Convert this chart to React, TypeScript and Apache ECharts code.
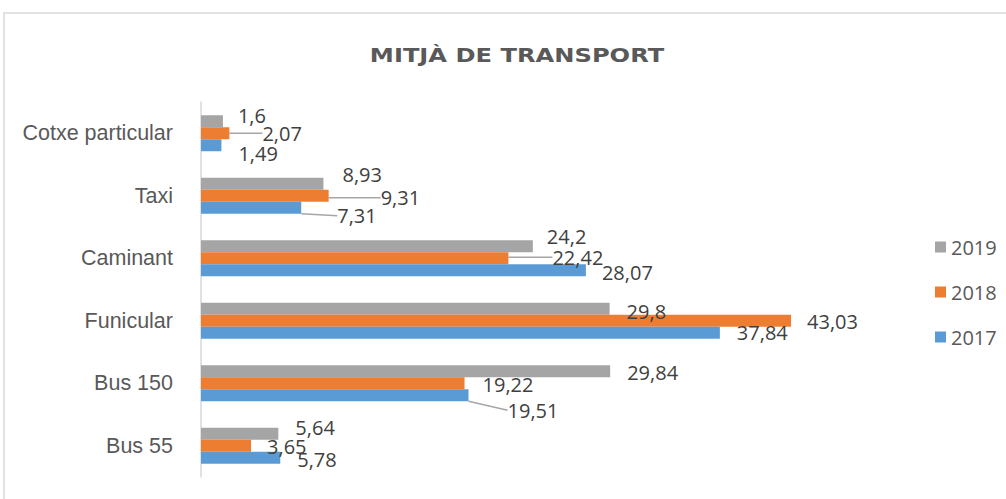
import React, { useEffect, useRef } from "react";
import * as echarts from "echarts";

// Categories listed bottom → top (ECharts category order on a vertical axis)
const categories = ["Bus 55", "Bus 150", "Funicular", "Caminant", "Taxi", "Cotxe particular"];
const seriesNames = ["2019", "2018", "2017"];
const values2019 = [5.64, 29.84, 29.8, 24.2, 8.93, 1.6];
const values2018 = [3.65, 19.22, 43.03, 22.42, 9.31, 2.07];
const values2017 = [5.78, 19.51, 37.84, 28.07, 7.31, 1.49];
const legendOrder = ["2019", "2018", "2017"];

// Presentation only: label displacement [dx, dy] per series / category, and leader-line flags
const labelOffsets: number[][][] = [
  [[8, -6], [8, 1], [8, 3], [5, -10], [10, -9], [6, -6]],
  [[7, 1], [9, 1], [7, 1], [35, -1], [43, 2], [24, 0]],
  [[8, 2], [30, 15], [8, 0], [7, 2], [27, 8], [8, 8]],
];
const leaderLines: boolean[][] = [
  [false, false, false, false, false, false],
  [false, false, false, true, true, true],
  [false, true, false, false, true, false],
];
const colors = ["#a5a5a5", "#ed7d31", "#5b9bd5"];

function fmt(v: number): string {
  return String(v).replace(".", ",");
}

export default function App() {
  const ref = useRef<HTMLDivElement>(null);
  useEffect(() => {
    if (!ref.current) return;
    const chart = echarts.init(ref.current, undefined, { renderer: "svg" });
    const allValues = [values2019, values2018, values2017];
    const option: any = {
      animation: false,
      backgroundColor: "#ffffff",
      graphic: [
        {
          type: "rect",
          shape: { x: 4, y: 13, width: 1100, height: 600 },
          style: { fill: "none", stroke: "#d9d9d9", lineWidth: 1.5 },
          silent: true,
        },
        {
          type: "text",
          x: 517,
          y: 55,
          scaleX: 1.24,
          style: {
            text: "MITJÀ DE TRANSPORT",
            font: 'bold 19.5px "DejaVu Sans"',
            fill: "#595959",
            align: "center",
            verticalAlign: "middle",
          },
        },
      ],
      grid: { left: 201, right: 119.4, top: 102, bottom: 22, containLabel: false },
      xAxis: { type: "value", min: 0, max: 50, show: false },
      yAxis: {
        type: "category",
        data: categories,
        axisLine: { show: true, lineStyle: { color: "#d9d9d9", width: 1.5 } },
        axisTick: { show: false },
        splitLine: { show: false },
        axisLabel: {
          color: "#595959",
          fontSize: 21.5,
          fontFamily: '"Liberation Sans", Arial, sans-serif',
          margin: 28,
        },
      },
      legend: {
        orient: "vertical",
        left: 930,
        top: 232,
        itemWidth: 11,
        itemHeight: 11,
        itemGap: 25,
        icon: "rect",
        data: legendOrder,
        textStyle: { color: "#595959", fontSize: 20, fontFamily: '"Open Sans", sans-serif' },
      },
      series: seriesNames.map((name, s) => ({
        name,
        type: "bar",
        barWidth: 12,
        barGap: "0%",
        itemStyle: { color: colors[s] },
        data: allValues[s].map((v, i) => ({
          value: v,
          labelLine: { show: leaderLines[s][i] },
        })),
        label: {
          show: true,
          position: "right",
          distance: 5,
          padding: [0, 4],
          color: "#404040",
          fontSize: 20,
          fontFamily: '"Open Sans", sans-serif',
          formatter: (p: any) => fmt(p.value),
        },
        labelLine: { show: false, lineStyle: { color: "#a6a6a6", width: 1.5 } },
        labelLayout: (p: any) => {
          const o = labelOffsets[p.seriesIndex][p.dataIndex];
          return { dx: o[0], dy: o[1] };
        },
      })),
    };
    chart.setOption(option);
    return () => chart.dispose();
  }, []);
  return (
    <div
      ref={ref}
      style={{ position: "fixed", left: 0, top: 0, width: 1006, height: 499 }}
    />
  );
}
